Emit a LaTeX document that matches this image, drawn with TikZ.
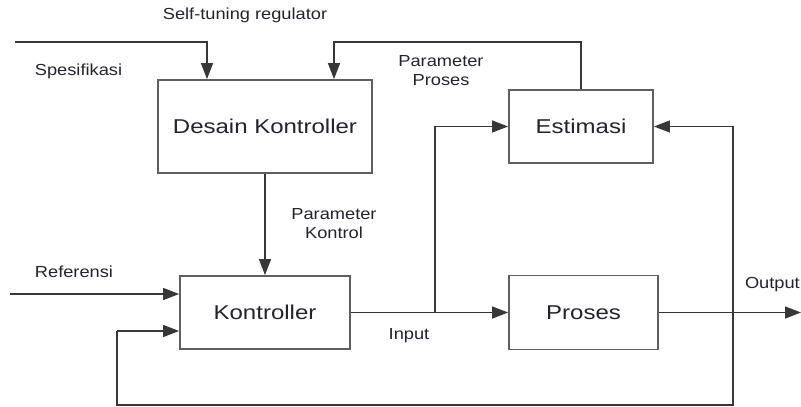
\documentclass[tikz,border=0pt]{standalone}
\usepackage{fontspec}
\setmainfont{Liberation Sans}
\usetikzlibrary{arrows.meta}
\definecolor{ln}{RGB}{55,55,55}
\definecolor{bx}{RGB}{95,95,95}
\definecolor{tx}{RGB}{35,35,45}
\newcommand{\smalltxt}[1]{\scalebox{1.14}[1]{#1}}
\newcommand{\bigtxt}[1]{\scalebox{1.2}[1]{#1}}
\begin{document}
\begin{tikzpicture}[x=1pt,y=-1pt,
  blk/.style={draw=bx,line width=1.8pt,fill=white,inner sep=0pt,
    font=\fontsize{20}{22}\selectfont,text=tx},
  lbl/.style={inner sep=0pt,font=\fontsize{16}{19}\selectfont,text=tx,align=center},
  conn/.style={draw=ln,line width=1.3pt},
  arr/.style={conn,-{Triangle[length=16pt,width=12pt]}}]
\useasboundingbox (0,0) rectangle (801,407);
% blocks
\node[blk,minimum width=214pt,minimum height=93pt] (desain) at (265,126.5) {\bigtxt{Desain Kontroller}};
\node[blk,minimum width=144pt,minimum height=73pt] (estim) at (581,126.5) {\bigtxt{Estimasi}};
\node[blk,minimum width=170pt,minimum height=73pt] (kontrol) at (265,312.5) {\bigtxt{Kontroller}};
\node[blk,minimum width=149pt,minimum height=74pt] (proses) at (583.5,312.5) {\bigtxt{Proses}};
% labels
\node[lbl] (tstr) at (245,15) {\smalltxt{Self-tuning regulator}};
\node[lbl] (tspec) at (78.5,71) {\smalltxt{Spesifikasi}};
\node[lbl] (tpp) at (441,70.5) {\smalltxt{Parameter}\\\smalltxt{Proses}};
\node[lbl] (tpk) at (334,224) {\smalltxt{Parameter}\\\smalltxt{Kontrol}};
\node[lbl] (tref) at (74,272) {\smalltxt{Referensi}};
\node[lbl] (tin) at (409,336) {\smalltxt{Input}};
\node[lbl,anchor=east] (tout) at (800,285) {\smalltxt{Output}};
% coordinates
\coordinate (sin) at (15,42);
\coordinate (pp) at (334,42);
\coordinate (rin) at (10,294);
\coordinate (br) at (435,312.5);
\coordinate (jn) at (733,312.5);
\coordinate (bot) at (117,405);
\coordinate (fb) at (117,331);
\coordinate (out) at (801,312.5);
% connectors
\draw[arr] (sin) -| ([xshift=-58pt]desain.north);
\draw[arr] (estim.north) |- (pp) -- ([xshift=69pt]desain.north);
\draw[arr] (desain.south) -- (kontrol.north);
\draw[arr] (rin) -- (rin -| kontrol.west);
\draw[arr] (kontrol.east) -- (proses.west);
\draw[arr] (br) |- (estim.west);
\draw[arr] (proses.east) -- (out);
\draw[arr] (jn) |- (estim.east);
\draw[conn] (jn) |- (bot) -- (fb);
\draw[arr] (fb) -- (fb -| kontrol.west);
\end{tikzpicture}
\end{document}
